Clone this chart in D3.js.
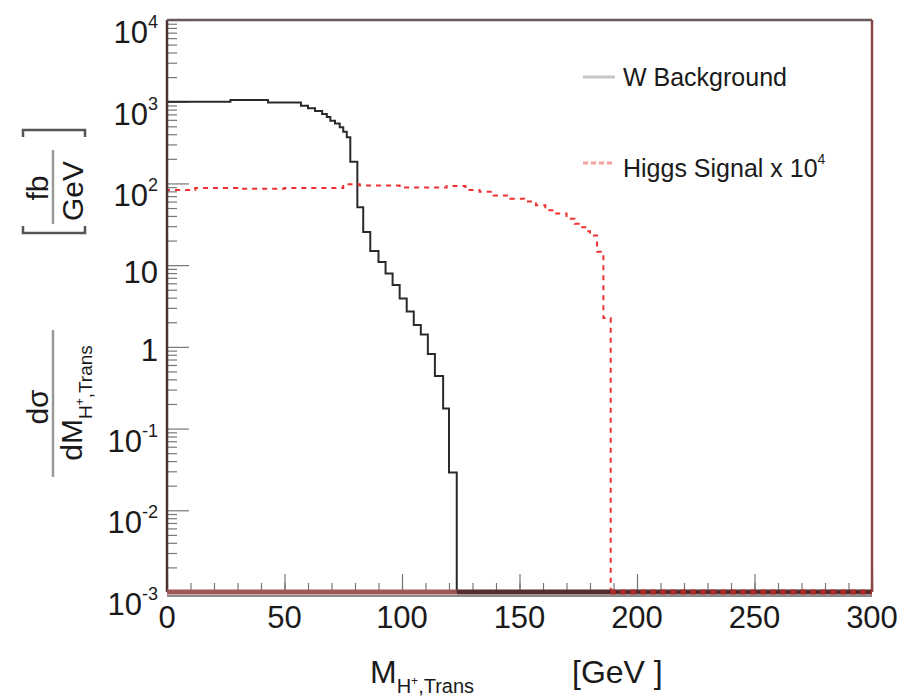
<!DOCTYPE html>
<html>
<head>
<meta charset="utf-8">
<script src="https://cdn.jsdelivr.net/npm/d3@7"></script>
<style>
  body { margin: 0; background: #fff; }
  svg { display: block; }
  text { font-family: "Liberation Sans", Arial, sans-serif; fill: #1a1a1a; }
</style>
</head>
<body>
<div id="chart"></div>
<script>
// W background histogram: bin edges (GeV) and contents (fb/GeV)
const bgEdges = [0, 27, 43, 57, 60, 63, 66, 68, 69.5, 71.5, 73.5, 75, 76.5, 78, 81, 83.5, 86.5, 90, 93, 96, 99, 102, 105, 108, 111, 114, 117.5, 120, 123.3];
const bgValues = [1000, 1050, 975, 890, 830, 770, 705, 650, 585, 540, 486, 430, 367, 184, 51, 25.4, 14.9, 10.9, 7.9, 5.7, 3.9, 2.7, 1.85, 1.42, 0.82, 0.44, 0.176, 0.029];

// Higgs signal x 10^4
const sigEdges = [0, 12, 30, 50, 75, 82, 99, 119, 127, 133, 139, 146, 152, 157, 161, 164, 170, 173.5, 176, 178, 180, 183, 185.7, 188.8];
const sigValues = [83, 88, 86, 88, 98, 94, 89, 93, 83, 79, 71, 65, 60, 54, 47, 43, 37, 32, 29, 26, 23, 14.6, 2.25];

const xTickValues = [0, 50, 100, 150, 200, 250, 300];
const yTickValues = [1e-3, 1e-2, 1e-1, 1, 10, 1e2, 1e3, 1e4];
const yTickBase = ["10", "10", "10", "1", "10", "10", "10", "10"];
const yTickExp = ["-3", "-2", "-1", "", "", "2", "3", "4"];

const W = 915, H = 697;
const plot = { left: 167, right: 872, top: 20, bottom: 592 };

const svg = d3.select("#chart").append("svg")
  .attr("width", W)
  .attr("height", H);

const x = d3.scaleLinear().domain([0, 300]).range([plot.left, plot.right]);
const y = d3.scaleLog().domain([1e-3, 1e4]).range([plot.bottom, plot.top]);
const floor = y.domain()[0];

function histPoints(edges, values) {
  const pts = [[edges[0], floor]];
  values.forEach((v, i) => {
    const vv = Math.max(v, floor);
    pts.push([edges[i], vv], [edges[i + 1], vv]);
  });
  pts.push([edges[edges.length - 1], floor], [x.domain()[1], floor]);
  return pts;
}

const line = d3.line().x(d => x(d[0])).y(d => y(d[1]));

// ticks
const yAll = y.ticks();
const yMinor = yAll.filter(v => !yTickValues.some(t => Math.abs(t - v) / t < 1e-9));

function styleAxis(g) {
  g.select(".domain").remove();
  g.selectAll(".tick line").attr("stroke", "#777").attr("stroke-width", 1.2);
}

svg.append("g")
  .attr("transform", `translate(${plot.left},0)`)
  .call(d3.axisRight(y).tickValues(yMinor).tickSize(10).tickFormat(""))
  .call(styleAxis);

svg.append("g")
  .attr("transform", `translate(${plot.left},0)`)
  .call(d3.axisRight(y).tickValues(yTickValues).tickSize(22).tickFormat(""))
  .call(styleAxis);

svg.append("g")
  .attr("transform", `translate(0,${plot.bottom})`)
  .call(d3.axisTop(x).tickValues(d3.range(0, 301, 10)).tickSize(9).tickFormat(""))
  .call(styleAxis);

svg.append("g")
  .attr("transform", `translate(0,${plot.bottom})`)
  .call(d3.axisTop(x).tickValues(xTickValues).tickSize(18).tickFormat(""))
  .call(styleAxis);

// histograms
svg.append("path")
  .attr("d", line(histPoints(bgEdges, bgValues)))
  .attr("fill", "none")
  .attr("stroke", "#2a2a2a")
  .attr("stroke-width", 2);

svg.append("path")
  .attr("d", line(histPoints(sigEdges, sigValues)))
  .attr("fill", "none")
  .attr("stroke", "#f03030")
  .attr("stroke-width", 2)
  .attr("stroke-dasharray", "5,5");

// frame
const frame = svg.append("g");
frame.append("line").attr("x1", plot.left).attr("x2", plot.left).attr("y1", plot.top).attr("y2", plot.bottom)
  .attr("stroke", "#4d3333").attr("stroke-width", 2.5);
frame.append("line").attr("x1", plot.left).attr("x2", plot.right).attr("y1", plot.top).attr("y2", plot.top)
  .attr("stroke", "#6b5858").attr("stroke-width", 2.5);
frame.append("line").attr("x1", plot.right).attr("x2", plot.right).attr("y1", plot.top).attr("y2", plot.bottom)
  .attr("stroke", "#8b4545").attr("stroke-width", 2.5);

// bottom band where both histograms sit at the floor
const bgEnd = bgEdges[bgEdges.length - 1];
const sigEnd = sigEdges[sigEdges.length - 1];
frame.append("line").attr("x1", plot.left).attr("x2", plot.right).attr("y1", plot.bottom + 4).attr("y2", plot.bottom + 4)
  .attr("stroke", "#8a8a8a").attr("stroke-width", 2);
frame.append("line").attr("x1", x(0)).attr("x2", x(bgEnd)).attr("y1", plot.bottom).attr("y2", plot.bottom)
  .attr("stroke", "#a05656").attr("stroke-width", 5);
frame.append("line").attr("x1", x(bgEnd)).attr("x2", x(300)).attr("y1", plot.bottom).attr("y2", plot.bottom)
  .attr("stroke", "#572c2c").attr("stroke-width", 5);
frame.append("line").attr("x1", x(sigEnd)).attr("x2", x(300)).attr("y1", plot.bottom).attr("y2", plot.bottom)
  .attr("stroke", "#b02a2a").attr("stroke-width", 5).attr("stroke-dasharray", "5,5");

// y tick labels
yTickValues.forEach((v, i) => {
  const base = yTickBase[i], exp = yTickExp[i];
  const off = exp ? 23 : (base === "10" ? 18 : 14);
  const t = svg.append("text")
    .attr("x", 158)
    .attr("y", y(v) + off)
    .attr("text-anchor", "end")
    .style("font-size", "31px");
  t.append("tspan").text(base);
  if (exp) {
    t.append("tspan").attr("dy", -15).style("font-size", "18px").text(exp);
  }
});

// x tick labels
svg.selectAll("text.xlab")
  .data(xTickValues)
  .join("text")
  .attr("class", "xlab")
  .attr("x", d => x(d))
  .attr("y", 628)
  .attr("text-anchor", "middle")
  .style("font-size", "31px")
  .text(d => d);

// x axis title
const xt = svg.append("text").attr("x", 370).attr("y", 683).style("font-size", "32px");
xt.append("tspan").text("M");
xt.append("tspan").attr("dy", 10).style("font-size", "20px").text("H");
xt.append("tspan").attr("dy", -8).style("font-size", "12px").text("+");
xt.append("tspan").attr("dy", 8).style("font-size", "20px").text(",Trans");
svg.append("text").attr("x", 572).attr("y", 683).style("font-size", "32px").text("[GeV ]");

// y axis title: [fb/GeV]
const g1 = svg.append("g").attr("transform", "translate(53,188) rotate(-90)");
g1.append("text").attr("x", 0).attr("y", -5).attr("text-anchor", "middle").style("font-size", "30px").text("fb");
g1.append("text").attr("x", -3).attr("y", 30).attr("text-anchor", "middle").style("font-size", "30px").text("GeV");
g1.append("line").attr("x1", -36).attr("x2", 38).attr("y1", 0).attr("y2", 0).attr("stroke", "#999").attr("stroke-width", 2.5);
g1.append("path")
  .attr("d", "M-38,-30 L-45,-30 L-45,32 L-38,32 M51,-30 L58,-30 L58,32 L51,32")
  .attr("fill", "none").attr("stroke", "#555").attr("stroke-width", 2.5);

// y axis title: dσ / dM_{H+,Trans}
const g2 = svg.append("g").attr("transform", "translate(53,403) rotate(-90)");
g2.append("text").attr("x", -4).attr("y", -5).attr("text-anchor", "middle").style("font-size", "30px").text("dσ");
const den = g2.append("text").attr("x", 0).attr("y", 29).attr("text-anchor", "middle").style("font-size", "30px");
den.append("tspan").text("dM");
den.append("tspan").attr("dy", 10).style("font-size", "19px").text("H");
den.append("tspan").attr("dy", -8).style("font-size", "12px").text("+");
den.append("tspan").attr("dy", 8).style("font-size", "19px").text(",Trans");
g2.append("line").attr("x1", -74).attr("x2", 73).attr("y1", 0).attr("y2", 0).attr("stroke", "#999").attr("stroke-width", 2.5);

// legend
svg.append("line").attr("x1", 583).attr("x2", 615).attr("y1", 77).attr("y2", 77)
  .attr("stroke", "#c6c6c6").attr("stroke-width", 3);
svg.append("text").attr("x", 623).attr("y", 86).style("font-size", "25px").text("W Background");

svg.append("line").attr("x1", 583).attr("x2", 615).attr("y1", 163).attr("y2", 163)
  .attr("stroke", "#f4a0a0").attr("stroke-width", 3).attr("stroke-dasharray", "5,3");
const lt = svg.append("text").attr("x", 623).attr("y", 177).style("font-size", "25px");
lt.append("tspan").text("Higgs Signal x 10");
lt.append("tspan").attr("dy", -13).style("font-size", "14px").text("4");
</script>
</body>
</html>
